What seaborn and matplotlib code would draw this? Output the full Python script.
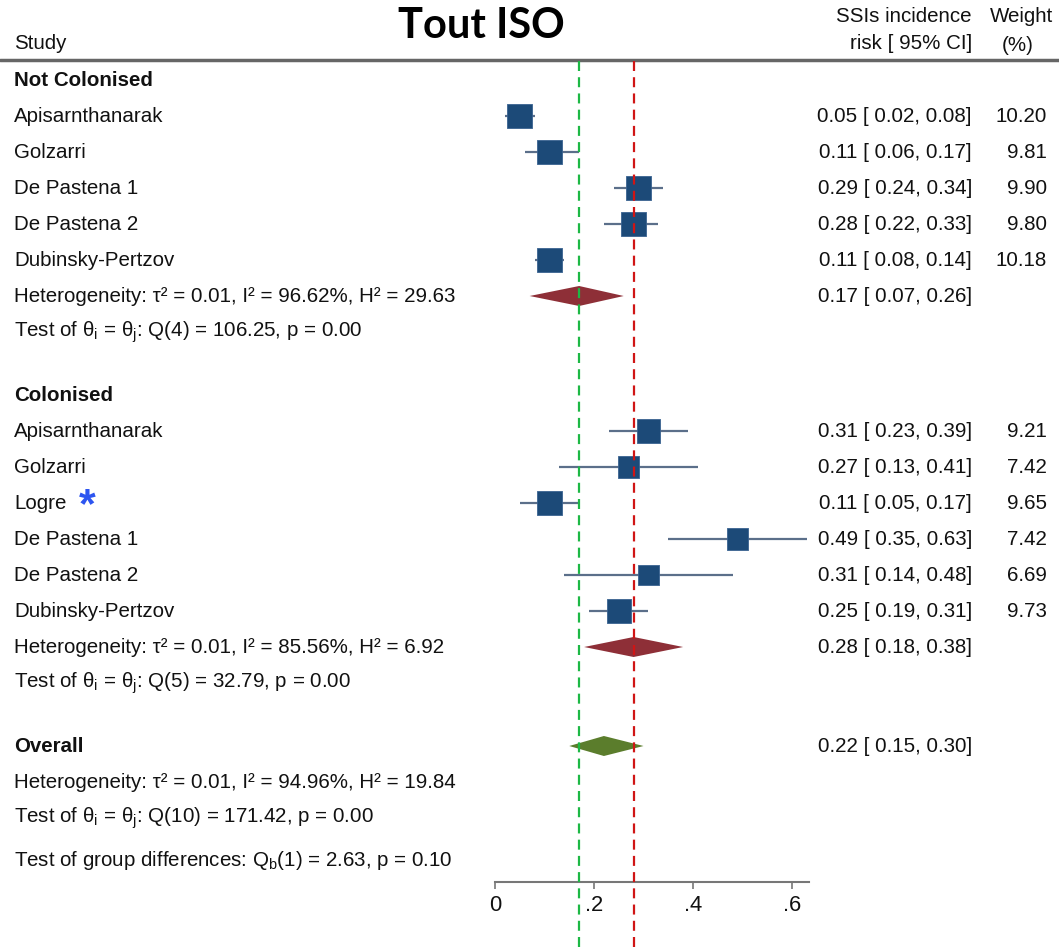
import numpy as np
import matplotlib
matplotlib.use("Agg")
import matplotlib.pyplot as plt
import seaborn as sns

# ---- data ----
nc_studies = ["Apisarnthanarak", "Golzarri", "De Pastena 1", "De Pastena 2", "Dubinsky-Pertzov"]
nc_est = [0.05, 0.11, 0.29, 0.28, 0.11]
nc_lo = [0.02, 0.06, 0.24, 0.22, 0.08]
nc_hi = [0.08, 0.17, 0.34, 0.33, 0.14]
nc_weight = [10.20, 9.81, 9.90, 9.80, 10.18]

col_studies = ["Apisarnthanarak", "Golzarri", "Logre", "De Pastena 1", "De Pastena 2", "Dubinsky-Pertzov"]
col_est = [0.31, 0.27, 0.11, 0.49, 0.31, 0.25]
col_lo = [0.23, 0.13, 0.05, 0.35, 0.14, 0.19]
col_hi = [0.39, 0.41, 0.17, 0.63, 0.48, 0.31]
col_weight = [9.21, 7.42, 9.65, 7.42, 6.69, 9.73]

pooled_labels = ["Not Colonised", "Colonised", "Overall"]
pooled_est = [0.17, 0.28, 0.22]
pooled_lo = [0.07, 0.18, 0.15]
pooled_hi = [0.26, 0.38, 0.30]

het_text = [
    "Heterogeneity: τ² = 0.01, I² = 96.62%, H² = 29.63",
    "Heterogeneity: τ² = 0.01, I² = 85.56%, H² = 6.92",
    "Heterogeneity: τ² = 0.01, I² = 94.96%, H² = 19.84",
]
test_text = [
    r"Test of θ$_\mathregular{i}$ = θ$_\mathregular{j}$: Q(4) = 106.25, p = 0.00",
    r"Test of θ$_\mathregular{i}$ = θ$_\mathregular{j}$: Q(5) = 32.79, p = 0.00",
    r"Test of θ$_\mathregular{i}$ = θ$_\mathregular{j}$: Q(10) = 171.42, p = 0.00",
]
group_test = r"Test of group differences: Q$_\mathregular{b}$(1) = 2.63, p = 0.10"

xticks = [0, 0.2, 0.4, 0.6]
xtick_labels = ["0", ".2", ".4", ".6"]

# ---- style ----
sns.set_theme(style="white")
plt.rcParams["font.family"] = ["Liberation Sans", "DejaVu Sans"]
plt.rcParams["mathtext.fontset"] = "custom"
plt.rcParams["mathtext.rm"] = "Liberation Sans"

W, H = 1059, 947
X0, PX_PER_UNIT = 495, 495.0   # pixel of x=0, pixels per unit


def px(x):
    return (x - X0) / PX_PER_UNIT


fig = plt.figure(figsize=(W / 100, H / 100), dpi=100)
ax = fig.add_axes([0, 0, 1, 1])
ax.set_xlim(px(0), px(W))
ax.set_ylim(H, 0)

TXT = "#111111"
FS = 14.8
SQ = "#1c4a78"
CI_COL = "#5b6f8a"

# ---- row layout ----
step = 36
y_nc_head = 80
y_nc = [y_nc_head + step * (i + 1) for i in range(len(nc_studies))]
y_nc_het = y_nc[-1] + step
y_nc_test = y_nc_het + step
y_col_head = y_nc_test + 63
y_col = [y_col_head + step * (i + 1) for i in range(len(col_studies))]
y_col_het = y_col[-1] + step
y_col_test = y_col_het + step
y_all = y_col_test + 63
y_all_het = y_all + step
y_all_test = y_all_het + step
y_group = y_all_test + 42

# reference lines
top_frac = (H - 61) / H
ax.axvline(pooled_est[0], ymax=top_frac, color="#1db845", ls=(0, (4.5, 2.8)), lw=1.6, zorder=4)
ax.axvline(pooled_est[1], ymax=top_frac, color="#d01515", ls=(0, (4.5, 2.8)), lw=1.6, zorder=4)

# header
ax.axhline(60, color="#666666", lw=2.5)
ax.text(px(14), 43, "Study", fontsize=FS, color=TXT, va="center")
ax.text(px(481), 26, "Tout ISO", fontsize=30, fontweight="bold", family=["Lato", "DejaVu Sans"],
        color="black", ha="center", va="center")
ax.text(px(972), 16, "SSIs incidence", fontsize=FS, color=TXT, ha="right", va="center")
ax.text(px(972), 43, "risk [ 95% CI]", fontsize=FS, color=TXT, ha="right", va="center")
ax.text(px(1022), 16, "Weight", fontsize=FS, color=TXT, ha="center", va="center")
ax.text(px(1018), 45, "(%)", fontsize=FS, color=TXT, ha="center", va="center")


def draw_group(studies, est, lo, hi, wt, ys):
    ax.hlines(ys, lo, hi, color=CI_COL, lw=1.6, zorder=2)
    sns.scatterplot(x=est, y=ys, size=wt, sizes=(31.5 * 6.69, 31.5 * 10.2), size_norm=(6.69, 10.2),
                    marker="s", color=SQ, edgecolor="#3a6391", linewidth=0.6, legend=False, ax=ax, zorder=3)
    for name, e, l, h, w, y in zip(studies, est, lo, hi, wt, ys):
        ax.text(px(14), y, name, fontsize=FS, color=TXT, va="center")
        ax.text(px(972), y, f"{e:.2f} [ {l:.2f}, {h:.2f}]", fontsize=FS, color=TXT, ha="right", va="center")
        ax.text(px(1047), y, f"{w:.2f}", fontsize=FS, color=TXT, ha="right", va="center")


def diamond(e, l, h, y, color):
    ax.fill([l, e, h, e], [y, y - 10, y, y + 10], color=color, lw=0, zorder=3)
    ax.text(px(972), y, f"{e:.2f} [ {l:.2f}, {h:.2f}]", fontsize=FS, color=TXT, ha="right", va="center")


# Not colonised
ax.text(px(14), y_nc_head, pooled_labels[0], fontsize=FS, fontweight="bold", color=TXT, va="center")
draw_group(nc_studies, nc_est, nc_lo, nc_hi, nc_weight, y_nc)
diamond(pooled_est[0], pooled_lo[0], pooled_hi[0], y_nc_het, "#8e2f37")
ax.text(px(14), y_nc_het, het_text[0], fontsize=FS, color=TXT, va="center")
ax.text(px(14), y_nc_test, test_text[0], fontsize=FS, color=TXT, va="center")

# Colonised
ax.text(px(14), y_col_head, pooled_labels[1], fontsize=FS, fontweight="bold", color=TXT, va="center")
draw_group(col_studies, col_est, col_lo, col_hi, col_weight, y_col)
diamond(pooled_est[1], pooled_lo[1], pooled_hi[1], y_col_het, "#8e2f37")
ax.text(px(14), y_col_het, het_text[1], fontsize=FS, color=TXT, va="center")
ax.text(px(14), y_col_test, test_text[1], fontsize=FS, color=TXT, va="center")
ax.text(px(79), y_col[2] + 3, "*", fontsize=31, fontweight="bold", color="#2d55f0", va="center")

# Overall
ax.text(px(14), y_all, pooled_labels[2], fontsize=FS, fontweight="bold", color=TXT, va="center")
diamond(pooled_est[2], pooled_lo[2], pooled_hi[2], y_all, "#5b7d2c")
ax.text(px(14), y_all_het, het_text[2], fontsize=FS, color=TXT, va="center")
ax.text(px(14), y_all_test, test_text[2], fontsize=FS, color=TXT, va="center")
ax.text(px(14), y_group, group_test, fontsize=FS, color=TXT, va="center")

# x axis
for s in ["top", "left", "right"]:
    ax.spines[s].set_visible(False)
ax.spines["bottom"].set_position(("data", 882))
ax.spines["bottom"].set_bounds(0, 0.635)
ax.spines["bottom"].set_color("#777777")
ax.spines["bottom"].set_linewidth(1.5)
ax.set_xticks(xticks)
ax.set_xticklabels(xtick_labels, fontsize=FS + 1, color=TXT)
ax.tick_params(axis="x", direction="out", length=5, width=1.2, color="#777777", pad=4, bottom=True)
ax.set_yticks([])
ax.set_xlabel("")
ax.set_ylabel("")

fig.savefig("out.png", dpi=100)
